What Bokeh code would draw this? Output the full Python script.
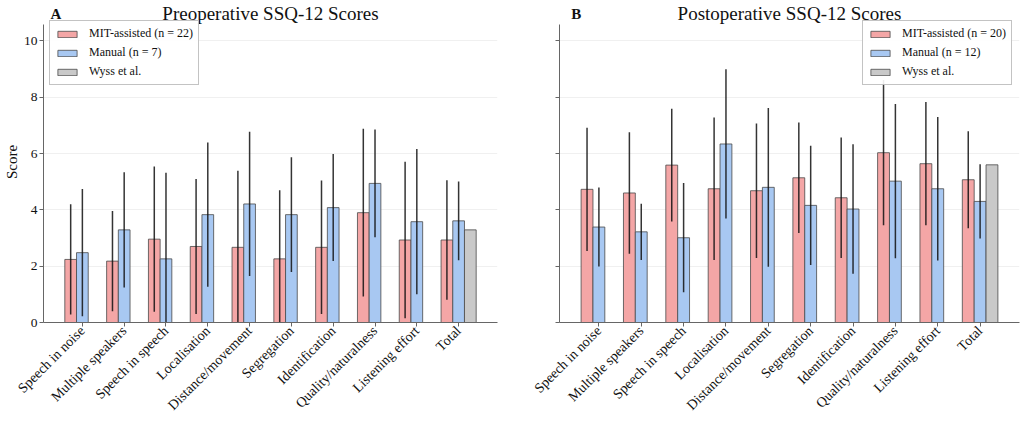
import numpy as np
from bokeh.plotting import figure
from bokeh.models import FixedTicker, Legend, LegendItem, Label, Range1d
from bokeh.layouts import row
from bokeh.embed import file_html
from bokeh.resources import INLINE

categories = ["Speech in noise", "Multiple speakers", "Speech in speech", "Localisation",
              "Distance/movement", "Segregation", "Identification", "Quality/naturalness",
              "Listening effort", "Total"]

pre_mit_mean = [2.24, 2.18, 2.96, 2.70, 2.67, 2.26, 2.67, 3.90, 2.93, 2.93]
pre_mit_sd = [1.96, 1.78, 2.58, 2.40, 2.72, 2.44, 2.37, 2.98, 2.78, 2.12]
pre_man_mean = [2.48, 3.29, 2.26, 3.83, 4.21, 3.83, 4.08, 4.94, 3.58, 3.61]
pre_man_sd = [2.26, 2.05, 3.06, 2.56, 2.56, 2.04, 1.90, 1.91, 2.58, 1.40]
pre_wyss_total = [3.29]

post_mit_mean = [4.73, 4.60, 5.59, 4.75, 4.68, 5.14, 4.43, 6.03, 5.64, 5.07]
post_mit_sd = [2.19, 2.16, 2.00, 2.53, 2.39, 1.96, 2.14, 2.58, 2.19, 1.72]
post_man_mean = [3.39, 3.22, 3.01, 6.34, 4.80, 4.16, 4.03, 5.02, 4.75, 4.30]
post_man_sd = [1.40, 1.00, 1.94, 2.65, 2.82, 2.12, 2.30, 2.74, 2.55, 1.32]
post_wyss_total = [5.60]

y_ticks = [0, 2, 4, 6, 8, 10]

FONT = "Liberation Serif, Times New Roman, serif"
RED = "#F4A6A6"
BLUE = "#A8C8F2"
GRAY = "#C9C9C9"
EDGE = "#4a4a4a"
W = 0.28
Y_AXIS_TOP = 10.58
Y_FRAME_TOP = 11.40


def panel(title, letter, mit_m, mit_sd, man_m, man_sd, wyss, n_mit, n_man,
          show_labels, width, border_left, border_right, legend_xy, letter_x):
    p = figure(width=width, height=421, x_range=Range1d(-0.93, 9.93),
               y_range=Range1d(0, Y_FRAME_TOP), output_backend="svg", toolbar_location=None,
               min_border_left=border_left, min_border_right=border_right,
               min_border_top=1, min_border_bottom=99)
    p.outline_line_color = None
    idx = np.arange(len(categories))
    mit_m = np.array(mit_m); mit_sd = np.array(mit_sd)
    man_m = np.array(man_m); man_sd = np.array(man_sd)
    r1 = p.vbar(x=idx - W, top=mit_m, width=W, bottom=0, fill_color=RED,
                line_color=EDGE, line_width=1, line_alpha=0.8)
    r2 = p.vbar(x=idx, top=man_m, width=W, bottom=0, fill_color=BLUE,
                line_color=EDGE, line_width=1, line_alpha=0.8)
    ti = categories.index("Total")
    r3 = p.vbar(x=[ti + W], top=wyss, width=W, bottom=0, fill_color=GRAY,
                line_color=EDGE, line_width=1, line_alpha=0.8)
    p.segment(x0=idx - W, y0=mit_m - mit_sd, x1=idx - W, y1=mit_m + mit_sd,
              line_color="#111111", line_width=1.5, line_alpha=0.85)
    p.segment(x0=idx, y0=man_m - man_sd, x1=idx, y1=man_m + man_sd,
              line_color="#111111", line_width=1.5, line_alpha=0.85)

    p.xgrid.visible = False
    p.ygrid.grid_line_color = "#e6e6e6"
    p.ygrid.grid_line_alpha = 0.6
    p.ygrid.ticker = FixedTicker(ticks=y_ticks)

    p.xaxis.ticker = FixedTicker(ticks=list(idx))
    p.xaxis.major_label_overrides = {int(i): c for i, c in zip(idx, categories)}
    p.xaxis.major_label_orientation = np.pi / 4
    p.yaxis.ticker = FixedTicker(ticks=y_ticks)
    p.yaxis.bounds = (0, Y_AXIS_TOP)
    for ax in (p.xaxis, p.yaxis):
        ax.axis_line_color = "#666666"
        ax.major_tick_line_color = "#666666"
        ax.major_tick_out = 4
        ax.major_tick_in = 0
        ax.minor_tick_line_color = None
        ax.major_label_text_font = FONT
        ax.major_label_text_color = "#111111"
        ax.major_label_standoff = 2
    p.yaxis.major_label_text_font_size = "13.5px"
    p.xaxis.major_label_text_font_size = "14px"
    if show_labels:
        p.yaxis.axis_label = "Score"
        p.yaxis.axis_label_text_font = FONT
        p.yaxis.axis_label_text_font_size = "15px"
        p.yaxis.axis_label_text_font_style = "normal"
        p.yaxis.axis_label_text_color = "#111111"
        p.yaxis.axis_label_standoff = 1
    else:
        p.yaxis.major_label_overrides = {v: "" for v in y_ticks}

    p.add_layout(Label(x=4.5, y=10.97, text=title, text_font=FONT, text_font_size="19px",
                       text_align="center", text_baseline="middle", text_color="#111111"))
    p.add_layout(Label(x=letter_x, y=10.97, text=letter, text_font=FONT, text_font_size="15px",
                       text_font_style="bold", text_align="left", text_baseline="middle",
                       text_color="#111111"))

    legend = Legend(items=[
        LegendItem(label=f"MIT-assisted (n = {n_mit})", renderers=[r1]),
        LegendItem(label=f"Manual (n = {n_man})", renderers=[r2]),
        LegendItem(label="Wyss et al.", renderers=[r3]),
    ], location=legend_xy)
    legend.margin = 0
    legend.padding = 5
    legend.spacing = 4
    legend.glyph_width = 24
    legend.glyph_height = 8
    legend.label_height = 13
    legend.label_standoff = 10
    legend.label_text_font = FONT
    legend.label_text_font_size = "12px"
    legend.label_text_color = "#111111"
    legend.border_line_color = "#888888"
    legend.border_line_width = 1
    legend.background_fill_alpha = 0.9
    p.add_layout(legend)
    return p


p1 = panel("Preoperative SSQ-12 Scores", "A", pre_mit_mean, pre_mit_sd, pre_man_mean, pre_man_sd,
           pre_wyss_total, 22, 7, True, 510, 38, 13, (6, 237), -0.76)
p2 = panel("Postoperative SSQ-12 Scores", "B", post_mit_mean, post_mit_sd, post_man_mean, post_man_sd,
           post_wyss_total, 20, 12, False, 512, 49, 3, (303, 237), -0.654)

layout = row(p1, p2)
open("out.html", "w").write(file_html(layout, INLINE))
